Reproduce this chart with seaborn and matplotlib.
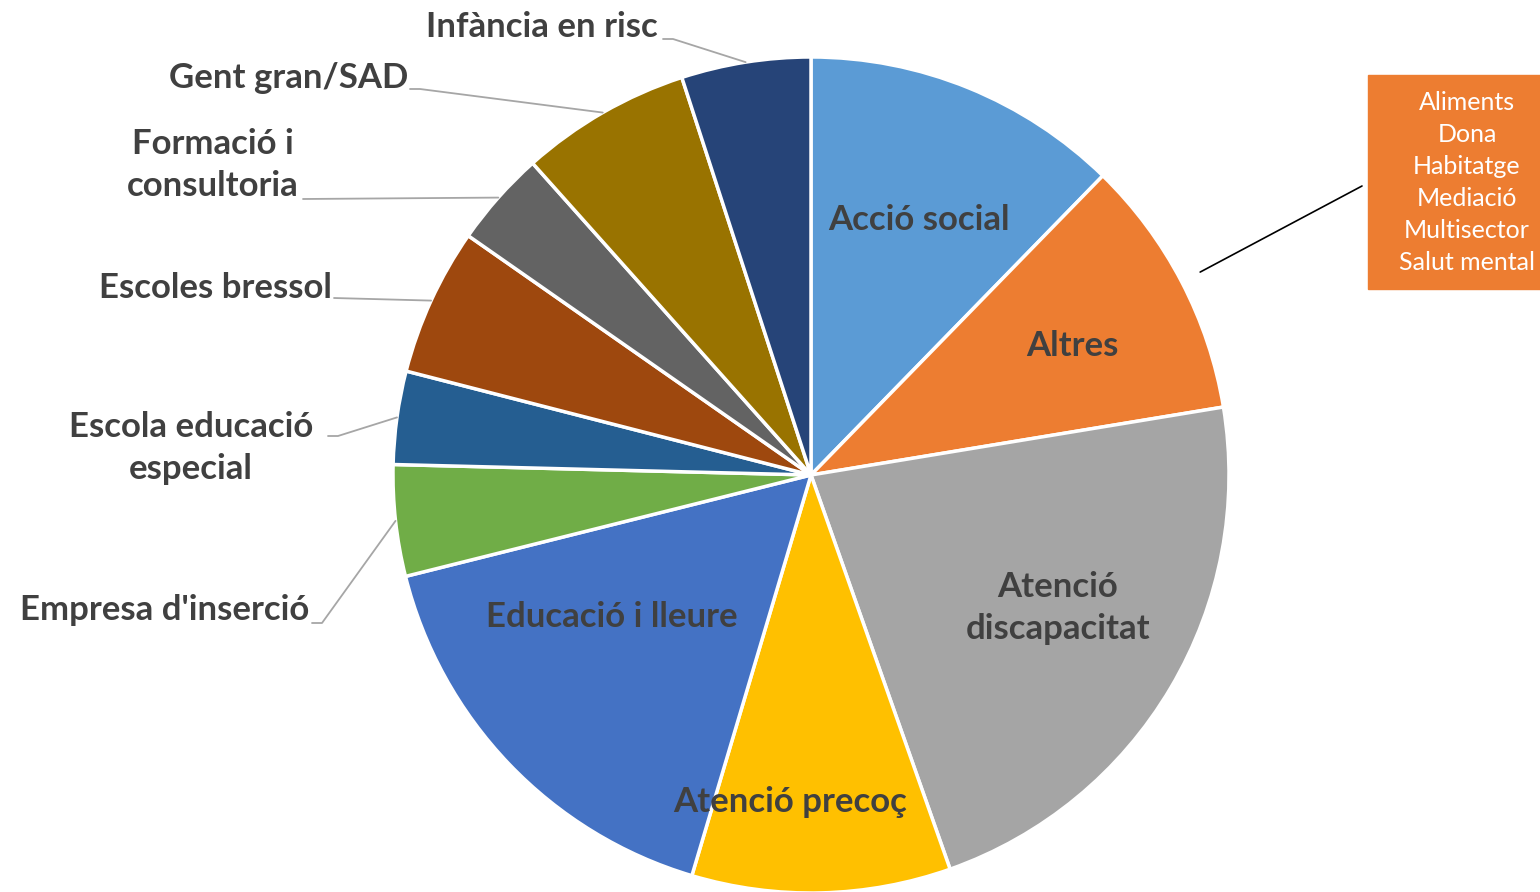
import numpy as np
import matplotlib
matplotlib.use("Agg")
import matplotlib.pyplot as plt
from matplotlib.patches import Rectangle
import seaborn as sns

# ==========================================
# dades
# ==========================================
sectors = ["Acció social", "Altres", "Atenció\ndiscapacitat", "Atenció precoç",
           "Educació i lleure", "Empresa d'inserció", "Escola educació\nespecial",
           "Escoles bressol", "Formació i\nconsultoria", "Gent gran/SAD",
           "Infància en risc"]
shares = [12.3, 10.1, 22.2, 10.0, 16.5, 4.3, 3.6, 5.7, 3.7, 6.6, 5.0]
colors = ["#5B9BD5", "#ED7D31", "#A5A5A5", "#FFC000", "#4472C4", "#70AD47",
          "#255E91", "#9E480E", "#636363", "#997300", "#264478"]
altres_items = ["Aliments", "Dona", "Habitatge", "Mediació", "Multisector",
                "Salut mental"]

# ==========================================
# estil
# ==========================================
sns.set_theme(style="white")
plt.rcParams['font.family'] = ['Lato', 'DejaVu Sans']

W, H = 1540, 892
CX, CY, R = 811, 475, 418


def px(x, y):
    # pixel de la imatge -> coordenades del pastís
    return (x - CX) / R, (CY - y) / R


fig = plt.figure(figsize=(W / 100, H / 100), dpi=100)
ax = fig.add_axes([(CX - R) / W, (H - CY - R) / H, 2 * R / W, 2 * R / H])

wedges, _ = ax.pie(shares, colors=sns.color_palette(colors), startangle=90,
                   counterclock=False, radius=1,
                   wedgeprops=dict(edgecolor='white', linewidth=2.5))
ax.set_xlim(-1, 1)
ax.set_ylim(-1, 1)
ax.axis('off')


def edge_point(i, r=1.0):
    w = wedges[i]
    a = np.deg2rad((w.theta1 + w.theta2) / 2)
    return r * np.cos(a), r * np.sin(a)


txt = dict(color='#404040', fontsize=25, fontweight='bold')

# etiquetes dins del pastís
inside = {0: (919, 220), 1: (1072, 346), 2: (1058, 608),
          3: (790, 802), 4: (612, 617)}
for i, (x, y) in inside.items():
    ax.text(*px(x, y), sectors[i], ha='center', va='center',
            linespacing=1.35, **txt)

# etiquetes de fora amb línia guia: posició text, alineació, colze
outside = {
    5: ((309, 610), 'right', (312, 623), (322, 623)),
    6: ((191, 448), 'center', (328, 436), (338, 436)),
    7: ((332, 288), 'right', (334, 298), (334, 298)),
    8: ((213, 165), 'center', (303, 199), (303, 199)),
    9: ((408, 78), 'right', (410, 89), (420, 89)),
    10: ((658, 27), 'right', (663, 39), (673, 39)),
}
for i, (tpos, ha, p0, p1) in outside.items():
    ax.text(*px(*tpos), sectors[i], ha=ha, va='center',
            linespacing=1.35, **txt)
    ex, ey = edge_point(i)
    xs = [px(*p0)[0], px(*p1)[0], ex]
    ys = [px(*p0)[1], px(*p1)[1], ey]
    ax.plot(xs, ys, color='#A6A6A6', lw=1.3, clip_on=False)

# caixa "Altres"
bx, by = edge_point(1, 1.05)
ax.plot([bx, px(1362, 186)[0]], [by, px(1362, 186)[1]],
        color='black', lw=1.2, clip_on=False)
fig.patches.append(Rectangle((1368 / W, 1 - 289 / H), 180 / W, 214 / H,
                             transform=fig.transFigure, color='#ED7D31',
                             zorder=0))
for k, item in enumerate(altres_items):
    fig.text(1467 / W, 1 - (103 + 32 * k) / H, item, ha='center',
             va='center', color='white', fontsize=18)

plt.savefig('out.png', dpi=100)
